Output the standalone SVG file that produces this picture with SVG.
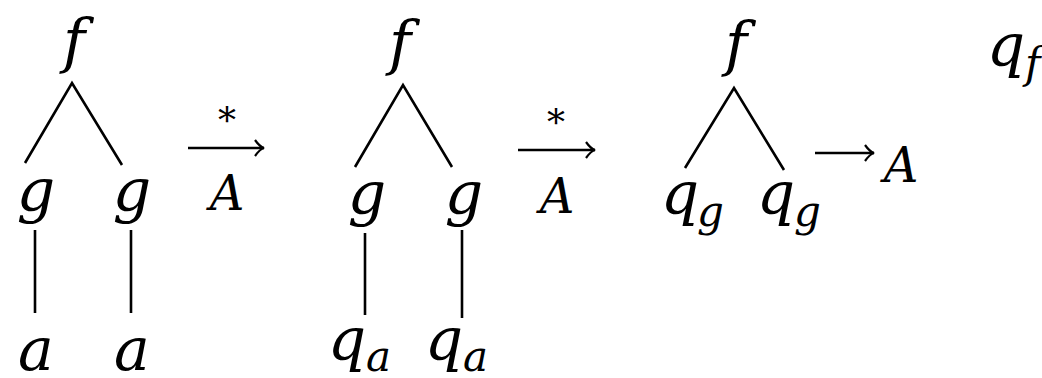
<svg xmlns="http://www.w3.org/2000/svg" width="1042" height="378" viewBox="0 0 1042 378">
<style>
text{font-family:"DejaVu Serif",serif;font-style:italic;fill:#000}
.m{font-size:60px;text-anchor:middle}
.s{font-size:42px}
.c{font-size:48px;text-anchor:middle}
.st{font-size:36px;font-style:normal;text-anchor:middle}
.e{stroke:#000;stroke-width:2.6;fill:none}
</style>
<defs>
<marker id="ah" viewBox="-12 -9 14 18" markerWidth="14" markerHeight="18" refX="0" refY="0" orient="auto" markerUnits="userSpaceOnUse">
<path d="M-9,-8 Q-4,-1 0,0 Q-4,1 -9,8" stroke="#000" stroke-width="2.2" fill="none"/>
</marker>
</defs>
<rect width="1042" height="378" fill="#fff"/>
<g id="connectors">
<path class="e" d="M25,163 L72,83 L122,165"/>
<line class="e" x1="35" y1="230" x2="35" y2="313"/>
<line class="e" x1="131" y1="230" x2="131" y2="313"/>
<path class="e" d="M355,167 L403,85 L452,167"/>
<line class="e" x1="365" y1="233" x2="365" y2="315"/>
<line class="e" x1="462" y1="230" x2="462" y2="318"/>
<path class="e" d="M685,168 L734,88 L784,170"/>
<line class="e" x1="188" y1="148" x2="264" y2="148" marker-end="url(#ah)"/>
<line class="e" x1="518" y1="150" x2="595" y2="150" marker-end="url(#ah)"/>
<line class="e" x1="815" y1="153" x2="874" y2="153" marker-end="url(#ah)"/>
</g>
<g id="tree1">
<text class="m" x="74" y="62">f</text>
<text class="m" x="36" y="211">g</text>
<text class="m" x="132" y="211">g</text>
<text class="m" x="36" y="370">a</text>
<text class="m" x="132" y="370">a</text>
</g>
<g id="step1">
<text class="st" x="227" y="133">*</text>
<text class="c" x="227" y="210">A</text>
</g>
<g id="tree2">
<text class="m" x="400" y="64">f</text>
<text class="m" x="367" y="214">g</text>
<text class="m" x="464" y="214">g</text>
<text class="m" x="347" y="360">q</text><text class="s" x="366" y="371">a</text>
<text class="m" x="444" y="360">q</text><text class="s" x="463" y="371">a</text>
</g>
<g id="step2">
<text class="st" x="556" y="135">*</text>
<text class="c" x="557" y="213">A</text>
</g>
<g id="tree3">
<text class="m" x="736" y="65">f</text>
<text class="m" x="680" y="214">q</text><text class="s" x="697" y="226">g</text>
<text class="m" x="776" y="214">q</text><text class="s" x="794" y="226">g</text>
</g>
<g id="step3">
<text class="c" x="901" y="182">A</text>
</g>
<g id="result">
<text class="m" x="1006" y="66">q</text><text class="s" x="1025" y="78">f</text>
</g>
</svg>
